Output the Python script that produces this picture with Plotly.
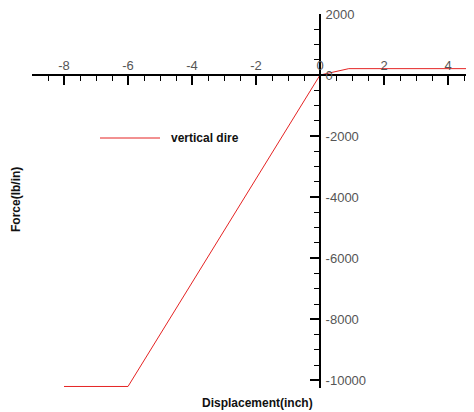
import plotly.graph_objects as go

# data
disp = [-8, -6, 0, 0.45, 0.9, 5]
force = [-10200, -10200, 0, 100, 210, 210]
series_name = "vertical dire"

x_tickvals = [-8, -6, -4, -2, 0, 2, 4]
x_ticktext = ["-8", "-6", "-4", "-2", "0", "2", "4"]
y_tickvals = [2000, 0, -2000, -4000, -6000, -8000, -10000]
y_ticktext = ["2000", "0", "-2000", "-4000", "-6000", "-8000", "-10000"]

x_range = [-9, 4.8125]
y_range = [-10250, 2000]

# the page body adds an 8px offset; lay the figure out so that it lands
# where the reference has it
OFF = 8
W, H = 466, 404
ml, mr, mt, mb = 24, 0, 6, 24
pw, ph = W - ml - mr, H - mt - mb

def px_x(p):
    return (p - OFF - ml) / pw

def px_y(p):
    return (H - mb - (p - OFF)) / ph

x_pos = (0 - y_range[0]) / (y_range[1] - y_range[0])
y_pos = (0 - x_range[0]) / (x_range[1] - x_range[0])

red = "#e52323"
tickfont = dict(family="Liberation Sans, Arial, sans-serif", size=13, color="#555555")
boldfont = dict(family="Liberation Sans, Arial, sans-serif", size=12, color="#111111")

fig = go.Figure()
fig.add_trace(go.Scatter(x=disp, y=force, mode="lines", name=series_name,
                         line=dict(color=red, width=1), showlegend=False))

fig.update_layout(
    template="none",
    width=W, height=H,
    margin=dict(l=ml, r=mr, t=mt, b=mb, pad=0, autoexpand=False),
    paper_bgcolor="white", plot_bgcolor="white",
    xaxis=dict(range=x_range, anchor="free", position=x_pos, side="top",
               automargin=False, ticklabeloverflow="allow",
               showgrid=False, zeroline=False, showline=True, linecolor="black",
               linewidth=2, ticks="inside", ticklen=9, tickwidth=1.5,
               tickcolor="black", tickmode="array", tickvals=x_tickvals,
               ticktext=x_ticktext, tickfont=tickfont, ticklabelstandoff=-1,
               minor=dict(ticks="inside", dtick=0.5, tick0=0, ticklen=5,
                          tickwidth=1.2, tickcolor="black", showgrid=False)),
    yaxis=dict(range=y_range, anchor="free", position=y_pos, side="right",
               automargin=False, ticklabeloverflow="allow",
               showgrid=False, zeroline=False, showline=True, linecolor="black",
               linewidth=2, ticks="inside", ticklen=9, tickwidth=1.5,
               tickcolor="black", tickmode="array", tickvals=y_tickvals,
               ticktext=y_ticktext, tickfont=tickfont, ticklabelstandoff=2,
               minor=dict(ticks="inside", dtick=500, tick0=0, ticklen=5,
                          tickwidth=1.2, tickcolor="black", showgrid=False)),
)

# manual legend
fig.add_shape(type="line", xref="paper", yref="paper",
              x0=px_x(100), x1=px_x(160), y0=px_y(138), y1=px_y(138),
              line=dict(color=red, width=1))
fig.add_annotation(text="<b>" + series_name + "</b>", xref="paper", yref="paper",
                   x=px_x(169), y=px_y(138), xanchor="left", yanchor="middle",
                   showarrow=False, font=boldfont)

# axis titles
fig.add_annotation(text="<b>Displacement(inch)</b>", xref="paper", yref="paper",
                   x=px_x(257), y=px_y(403), xanchor="center", yanchor="middle",
                   showarrow=False, font=boldfont)
fig.add_annotation(text="<b>Force(lb/in)</b>", xref="paper", yref="paper",
                   x=px_x(16), y=px_y(200), xanchor="center", yanchor="middle",
                   textangle=-90, showarrow=False, font=boldfont)

fig.write_html("out.html")
